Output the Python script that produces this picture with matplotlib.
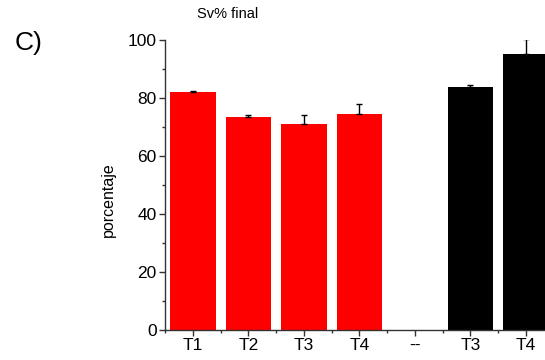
import matplotlib
matplotlib.use("Agg")
import matplotlib.pyplot as plt
import numpy as np
from matplotlib.ticker import MultipleLocator, FixedLocator

plt.rcParams['font.family'] = ['Liberation Sans', 'DejaVu Sans']

# --- datos ---
categorias = ["T1", "T2", "T3", "T4", "--", "T3", "T4"]
valores = [82.0, 73.6, 71.1, 74.6, np.nan, 83.9, 95.2]
errores = [0.3, 0.7, 3.2, 3.4, np.nan, 0.6, 5.0]
colores = ["#ff0000", "#ff0000", "#ff0000", "#ff0000", "white", "#000000", "#000000"]

fig = plt.figure(figsize=(5.45, 3.6), dpi=100)
ax = fig.add_axes([0.3028, 0.0833, 0.7128, 0.8056])

x = np.arange(len(categorias))
for xi, v, e, c in zip(x, valores, errores, colores):
    if np.isnan(v):
        continue
    ax.bar(xi, v, width=0.82, color=c, edgecolor="none", zorder=2)
    ax.errorbar(xi, v, yerr=[[0], [e]], fmt="none", ecolor="black",
                elinewidth=1.0, capsize=2.5, capthick=1.0, zorder=3)

ax.set_xlim(-0.5, len(categorias) - 0.5)
ax.set_ylim(0, 100)

ax.set_xticks(x)
ax.set_xticklabels(categorias, fontsize=12.5)
ax.xaxis.set_minor_locator(FixedLocator(np.arange(-0.5, len(categorias), 1.0)))
ax.yaxis.set_major_locator(MultipleLocator(20))
ax.yaxis.set_minor_locator(MultipleLocator(10))
ax.tick_params(axis="y", labelsize=12.5)

ax.tick_params(which="major", direction="out", length=4, width=1, color="#333333", pad=2)
ax.tick_params(which="minor", direction="out", length=2.5, width=1, color="#333333")

for s in ["top", "right"]:
    ax.spines[s].set_visible(False)
for s in ["left", "bottom"]:
    ax.spines[s].set_color("#333333")
    ax.spines[s].set_linewidth(1)

ax.set_ylabel("porcentaje", fontsize=11.5)
ax.yaxis.set_label_coords(-0.127, 0.45)
fig.text(0.418, 0.961, "Sv% final", fontsize=10.5, ha="center", va="center")
fig.text(0.026, 0.88, "C)", fontsize=19, ha="left", va="center")

fig.savefig("out.png", dpi=100)
